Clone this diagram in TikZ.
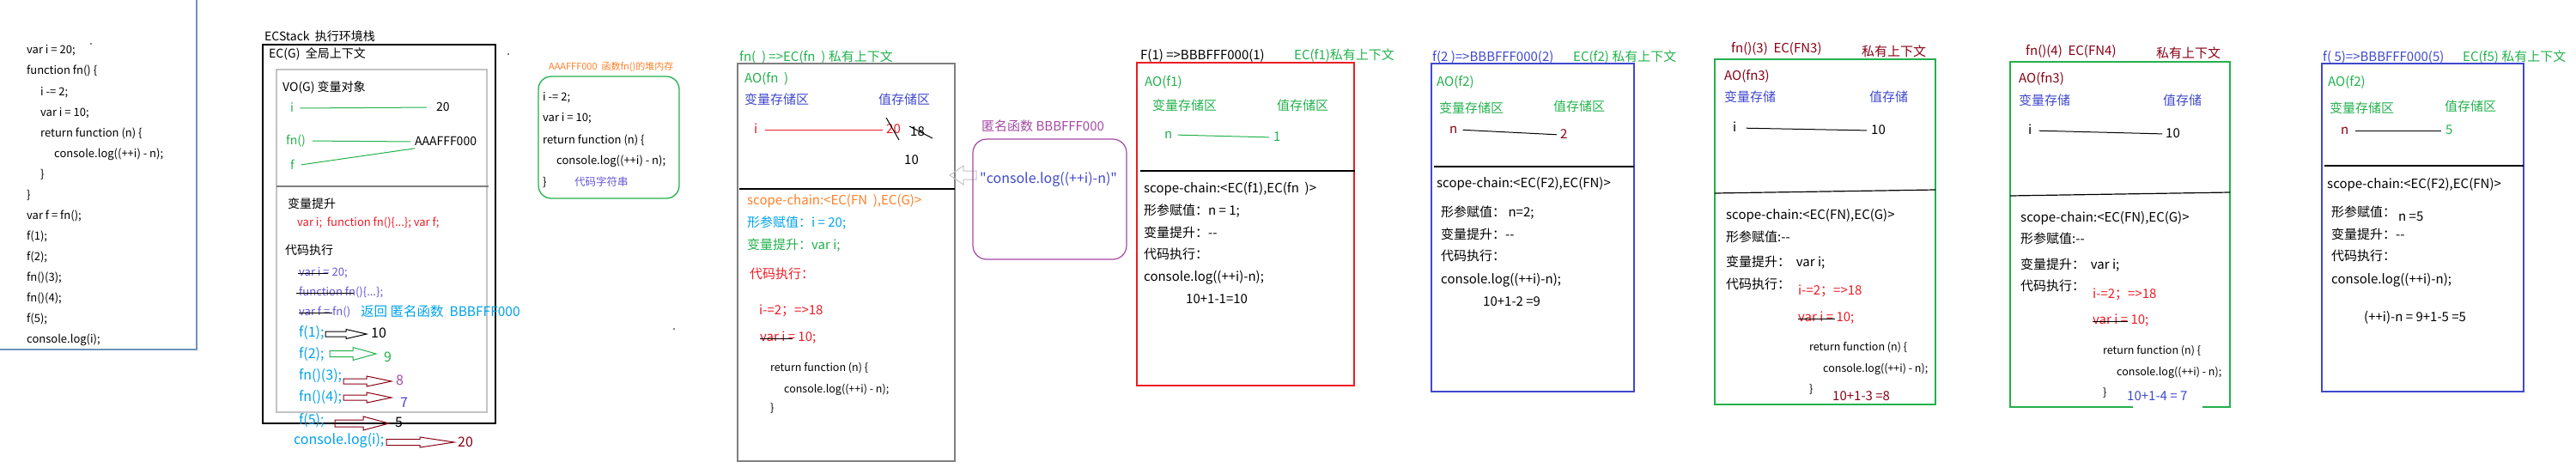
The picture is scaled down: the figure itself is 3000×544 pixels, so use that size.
\documentclass[tikz,border=0pt]{standalone}
\usepackage{fontspec}
\setmainfont{Noto Sans CJK SC}
\setmonofont{Noto Sans CJK SC}
\newcommand\fs[1]{\fontsize{#1}{#1}\selectfont}
\newcommand\dq{{\ttfamily"}}
\definecolor{pgreen}{RGB}{34,177,76}
\definecolor{pblue}{RGB}{63,72,204}
\definecolor{pviolet}{RGB}{98,86,214}
\definecolor{pred}{RGB}{237,28,36}
\definecolor{pdred}{RGB}{136,0,21}
\definecolor{porange}{RGB}{255,127,39}
\definecolor{psky}{RGB}{0,162,232}
\definecolor{ppurple}{RGB}{163,73,164}
\definecolor{pgray}{RGB}{195,195,195}
\definecolor{pdgray}{RGB}{127,127,127}
\definecolor{psteel}{RGB}{112,146,190}
\newcommand\blkarr[7]{%
  \draw[#7,line width=1pt,line join=miter] (#1,#4-#5) -- (#2,#4-#5) -- (#2,#4-#6) -- (#3,#4) -- (#2,#4+#6) -- (#2,#4+#5) -- (#1,#4+#5) -- cycle;}
\begin{document}
\begin{tikzpicture}[x=1pt,y=-1pt,
  tx/.style={anchor=west,inner sep=0pt,text depth=0pt},
  f11/.style={tx,font=\fs{11},text height=7.3pt},
  f12/.style={tx,font=\fs{12.5},text height=8.25pt},
  f13/.style={tx,font=\fs{13},text height=8.6pt},
  f14/.style={tx,font=\fs{14},text height=9.25pt},
  f15/.style={tx,font=\fs{15},text height=9.9pt},
  f16/.style={tx,font=\fs{16},text height=10.6pt},
  boxline/.style={line width=1.3pt},
  link/.style={line width=1pt},
  sepline/.style={line width=1.2pt},
  strike/.style={black,line width=1pt},
]
\useasboundingbox (0,0) rectangle (3000,544);
% ---------------- left code
\draw[psteel,boxline] (0,407) -- (229,407) -- (229,0);
\fill (106,51) circle (0.8);
\node[f13] (l1) at (31,58) {var i = 20;};
\node[f13] (l2) at (31,82) {function fn() \{};
\node[f13] (l3) at (47,107) {i -= 2;};
\node[f13] (l4) at (47,131) {var i = 10;};
\node[f13] (l5) at (47,155) {return function (n) \{};
\node[f13] (l6) at (63,179) {console.log((++i) - n);};
\node[f13] (l7) at (47,203) {\}};
\node[f13] (l8) at (31,227) {\}};
\node[f13] (l9) at (31,251) {var f = fn();};
\node[f13] (l10) at (31,275) {f(1);};
\node[f13] (l11) at (31,299) {f(2);};
\node[f13] (l12) at (31,323) {fn()(3);};
\node[f13] (l13) at (31,347) {fn()(4);};
\node[f13] (l14) at (31,371) {f(5);};
\node[f13] (l15) at (31,395) {console.log(i);};
% ---------------- ECStack
\node[f14] (ecs) at (308,43) {ECStack\ \ 执行环境栈};
\draw[black,boxline] (306,52) rectangle (577,493);
\node[f14] (ecg) at (313,63) {EC(G)\ \ 全局上下文};
\draw[pgray,line width=1.2pt] (322,81) rectangle (567,480);
\fill (592,63) circle (0.8);
\node[f14] (vog) at (329,102) {VO(G) 变量对象};
\node[f14,pgreen] (vi) at (338,126) {i};
\node[f14] (v20) at (508,125) {20};
\node[f14,pgreen] (vfn) at (333,164) {fn()};
\node[f14] (vA) at (483,165) {AAAFFF000};
\node[f14,pgreen] (vf) at (338,193) {f};
\draw[pgreen,link,shorten <=7pt,shorten >=11pt] (vi.east) -- (v20.west);
\draw[pgreen,link,shorten <=8pt,shorten >=5pt] (vfn.east) -- (vA.west);
\draw[pgreen,link,shorten <=8pt,shorten >=0pt] (vf.east) -- ([yshift=-3pt]vA.south west);
\draw[pdgray,sepline] (322,217) -- (569,217);
\node[f14] (hoist) at (335,238) {变量提升};
\node[f13,pred] (hoistv) at (346,259) {var i;\ \ function fn()\{...\}; var f;};
\node[f14] (exec) at (332,292) {代码执行};
\node[f13,pviolet] (e1) at (348,317) {var i = 20;};
\draw[strike] (347,318) -- (382,318);
\node[f13,pviolet] (e2) at (348,340) {function fn()\{...\};};
\draw[strike] (345,341) -- (412,341);
\node[f13,pviolet] (e3) at (348,363) {var f = fn()};
\draw[strike] (348,364) -- (387,364);
\node[tx,font=\fs{15.5},text height=10.2pt,psky] (ret) at (420,363) {返回 匿名函数\ \ BBBFFF000};
\node[f16,psky] (c1) at (348,387) {f(1);};
\node[f16,psky] (c2) at (348,412) {f(2);};
\node[f16,psky] (c3) at (348,437) {fn()(3);};
\node[f16,psky] (c4) at (348,462) {fn()(4);};
\node[f16,psky] (c5) at (348,489) {f(5);};
\node[f16,psky] (c6) at (342,512) {console.log(i);};
\blkarr{379}{403}{427}{389}{3}{5.5}{black}
\blkarr{384}{411}{438}{412}{3.5}{7.5}{pgreen}
\blkarr{400}{427}{456}{444}{3}{6}{pdred}
\blkarr{400}{427}{456}{463}{3}{6}{pdred}
\blkarr{390}{423}{453}{493}{4}{8}{pdred}
\blkarr{450}{489}{529}{515}{3.5}{6}{pdred}
\node[f16] (r1) at (432,388) {10};
\node[f16,pgreen] (r2) at (447,416) {9};
\node[f16,ppurple] (r3) at (461,443) {8};
\node[f16,pblue] (r4) at (466,469) {7};
\node[f16] (r5) at (460,492) {5};
\node[f16,pdred] (r6) at (533,515) {20};
\fill (785,383) circle (0.8);
% ---------------- heap AAAFFF000
\node[f11,porange] (heapt) at (639,78) {AAAFFF000\ \ 函数fn()的堆内存};
\draw[pgreen,boxline,rounded corners=15pt] (627,89) rectangle (791,231);
\node[f13] (h1) at (632,113) {i -= 2;};
\node[f13] (h2) at (632,137) {var i = 10;};
\node[f13] (h3) at (632,163) {return function (n) \{};
\node[f13] (h4) at (648,187) {console.log((++i) - n);};
\node[f13] (h5) at (632,212) {\}};
\node[f12,pviolet] (h6) at (669,212) {代码字符串};
% ---------------- EC(fn)
\node[f15,pgreen] (fnt) at (861,67) {fn(\ \ ) =>EC(fn\ \ ) 私有上下文};
\draw[pdgray,boxline] (859,74) rectangle (1112,537);
\node[f15,pgreen] (fnao) at (867,92) {AO(fn\ \ )};
\node[f15,pblue] (fnvs) at (867,117) {变量存储区};
\node[f15,pblue] (fnzs) at (1023,117) {值存储区};
\node[f15,pred] (fni) at (878,151) {i};
\node[f15,pred] (fn20) at (1032,151) {20};
\draw[pred,link,shorten <=8pt,shorten >=4pt] (fni.east) -- (fn20.west);
\draw[strike] (1032,137) -- (1047,163);
\node[f15] (fn18) at (1060,154) {18};
\draw[strike] (1059,147) -- (1086,161);
\node[f15] (fn10) at (1053,187) {10};
\draw[black,sepline] (861,220) -- (1112,220);
\node[f15,porange] (fnsc) at (870,234) {scope-chain:<EC(FN\ \ ),EC(G)>};
\node[f15,psky] (fnxc) at (870,260) {形参赋值：i = 20;};
\node[f15,pgreen] (fnbl) at (870,286) {变量提升：var i;};
\node[f15,pred] (fndm) at (873,320) {代码执行：};
\node[f15,pred] (fnd1) at (884,362) {i-=2；=>18};
\node[f15,pred] (fnd2) at (885,393) {var i = 10;};
\draw[strike] (885,394) -- (923,394);
\node[f12] (fnd3) at (897,428) {return function (n) \{};
\node[f12] (fnd4) at (913,453) {console.log((++i) - n);};
\node[f12] (fnd5) at (897,475) {\}};
% ---------------- anonymous function
\node[f15,ppurple] (anont) at (1143,148) {匿名函数 BBBFFF000};
\blkarr{1137}{1122}{1106}{204}{5}{11}{pgray}
\draw[ppurple,line width=1.2pt,rounded corners=16pt] (1133,162) rectangle (1312,302);
\node[f16,pblue] (anonc) at (1141,208) {\dq console.log((++i)-n)\dq};
% ---------------- F(1)
\node[f15] (a1t) at (1328,65) {F(1) =>BBBFFF000(1)};
\node[f15,pgreen] (a1e) at (1507,65) {EC(f1)私有上下文};
\draw[pred,boxline] (1324,73) rectangle (1577,449);
\node[f15,pgreen] (a1ao) at (1333,96) {AO(f1)};
\node[f15,pgreen] (a1vs) at (1342,124) {变量存储区};
\node[f15,pgreen] (a1zs) at (1487,124) {值存储区};
\node[f15,pgreen] (a1n) at (1356,157) {n};
\node[f15,pgreen] (a1v) at (1483,160) {1};
\draw[pgreen,link,shorten <=6pt,shorten >=5pt] (a1n.east) -- (a1v.west);
\draw[black,sepline] (1328,199) -- (1578,199);
\node[f15] (a1sc) at (1332,220) {scope-chain:<EC(f1),EC(fn\ \ )>};
\node[f15] (a1xc) at (1332,246) {形参赋值：n = 1;};
\node[f15] (a1bl) at (1332,272) {变量提升：-{}-};
\node[f15] (a1dm) at (1332,297) {代码执行：};
\node[f15] (a1cl) at (1332,323) {console.log((++i)-n);};
\node[f15] (a1rs) at (1381,349) {10+1-1=10};
% ---------------- f(2)
\node[f15,pblue] (a2t) at (1668,67) {f(2 )=>BBBFFF000(2)};
\node[f15,pgreen] (a2e) at (1832,67) {EC(f2) 私有上下文};
\draw[pblue,boxline] (1667,74) rectangle (1903,456);
\node[f15,pgreen] (a2ao) at (1673,96) {AO(f2)};
\node[f15,pgreen] (a2vs) at (1676,127) {变量存储区};
\node[f15,pgreen] (a2zs) at (1809,125) {值存储区};
\node[f15,pdred] (a2n) at (1688,151) {n};
\node[f15,pdred] (a2v) at (1817,157) {2};
\draw[black,link,shorten <=6pt,shorten >=4pt] (a2n.east) -- (a2v.west);
\draw[black,sepline] (1670,194) -- (1903,194);
\node[f15] (a2sc) at (1673,214) {scope-chain:<EC(F2),EC(FN)>};
\node[f15] (a2xc) at (1678,248) {形参赋值： n=2;};
\node[f15] (a2bl) at (1678,274) {变量提升：-{}-};
\node[f15] (a2dm) at (1678,299) {代码执行：};
\node[f15] (a2cl) at (1678,326) {console.log((++i)-n);};
\node[f15] (a2rs) at (1727,352) {10+1-2 =9};
% ---------------- fn()(3)
\node[f15,pdred] (a3t) at (2016,57) {fn()(3)\ \ EC(FN3)};
\node[f15,pdred] (a3e) at (2168,61) {私有上下文};
\draw[pgreen,boxline] (1997,69) rectangle (2254,471);
\node[f15,pdred] (a3ao) at (2008,89) {AO(fn3)};
\node[f15,pblue] (a3vs) at (2008,114) {变量存储};
\node[f15,pblue] (a3zs) at (2177,114) {值存储};
\node[f15] (a3i) at (2018,149) {i};
\node[f15] (a3v) at (2179,152) {10};
\draw[black,link,shorten <=11pt,shorten >=5pt] (a3i.east) -- (a3v.west);
\draw[black,sepline] (1997,225) -- (2254,221);
\node[f15] (a3sc) at (2010,251) {scope-chain:<EC(FN),EC(G)>};
\node[f15] (a3xc) at (2010,277) {形参赋值:-{}-};
\node[f15] (a3bl) at (2010,306) {变量提升：\ \ var i;};
\node[f15] (a3dm) at (2010,332) {代码执行：};
\node[f15,pred] (a3d1) at (2094,339) {i-=2；=>18};
\node[f15,pred] (a3d2) at (2094,370) {var i = 10;};
\draw[strike] (2094,371) -- (2137,371);
\node[f12] (a3d3) at (2107,404) {return function (n) \{};
\node[f12] (a3d4) at (2123,429) {console.log((++i) - n);};
\node[f12] (a3d5) at (2107,453) {\}};
\node[f15,pdred] (a3rs) at (2134,462) {10+1-3 =8};
% ---------------- fn()(4)
\node[f15,pdred] (a4t) at (2359,60) {fn()(4)\ \ EC(FN4)};
\node[f15,pdred] (a4e) at (2511,63) {私有上下文};
\draw[pgreen,boxline] (2484,474) -- (2341,474) -- (2341,72) -- (2597,72) -- (2597,474) -- (2565,474);
\node[f15,pdred] (a4ao) at (2351,92) {AO(fn3)};
\node[f15,pblue] (a4vs) at (2351,118) {变量存储};
\node[f15,pblue] (a4zs) at (2519,118) {值存储};
\node[f15] (a4i) at (2362,152) {i};
\node[f15] (a4v) at (2522,156) {10};
\draw[black,link,shorten <=8pt,shorten >=4pt] (a4i.east) -- (a4v.west);
\draw[black,sepline] (2341,228) -- (2597,224);
\node[f15] (a4sc) at (2353,254) {scope-chain:<EC(FN),EC(G)>};
\node[f15] (a4xc) at (2353,279) {形参赋值:-{}-};
\node[f15] (a4bl) at (2353,309) {变量提升：\ \ var i;};
\node[f15] (a4dm) at (2353,334) {代码执行：};
\node[f15,pred] (a4d1) at (2437,343) {i-=2；=>18};
\node[f15,pred] (a4d2) at (2437,373) {var i = 10;};
\draw[strike] (2437,374) -- (2478,374);
\node[f12] (a4d3) at (2449,408) {return function (n) \{};
\node[f12] (a4d4) at (2465,433) {console.log((++i) - n);};
\node[f12] (a4d5) at (2449,457) {\}};
\node[f15,pblue] (a4rs) at (2477,462) {10+1-4 = 7};
% ---------------- f(5)
\node[f15,pblue] (a5t) at (2705,67) {f( 5)=>BBBFFF000(5)};
\node[f15,pgreen] (a5e) at (2868,67) {EC(f5) 私有上下文};
\draw[pblue,boxline] (2704,74) rectangle (2939,456);
\node[f15,pgreen] (a5ao) at (2711,96) {AO(f2)};
\node[f15,pgreen] (a5vs) at (2713,127) {变量存储区};
\node[f15,pgreen] (a5zs) at (2847,125) {值存储区};
\node[f15,pdred] (a5n) at (2726,152) {n};
\node[f15,pgreen] (a5v) at (2848,152) {5};
\draw[black,link,shorten <=7pt,shorten >=5pt] (a5n.east) -- (a5v.west);
\draw[black,sepline] (2707,193) -- (2939,193);
\node[f15] (a5sc) at (2710,215) {scope-chain:<EC(F2),EC(FN)>};
\node[f15] (a5xc) at (2715,248) {形参赋值：};
\node[f15] (a5xv) at (2793,253) {n =5};
\node[f15] (a5bl) at (2715,274) {变量提升：-{}-};
\node[f15] (a5dm) at (2715,299) {代码执行：};
\node[f15] (a5cl) at (2715,326) {console.log((++i)-n);};
\node[f15] (a5rs) at (2753,370) {(++i)-n = 9+1-5 =5};
\end{tikzpicture}
\end{document}
